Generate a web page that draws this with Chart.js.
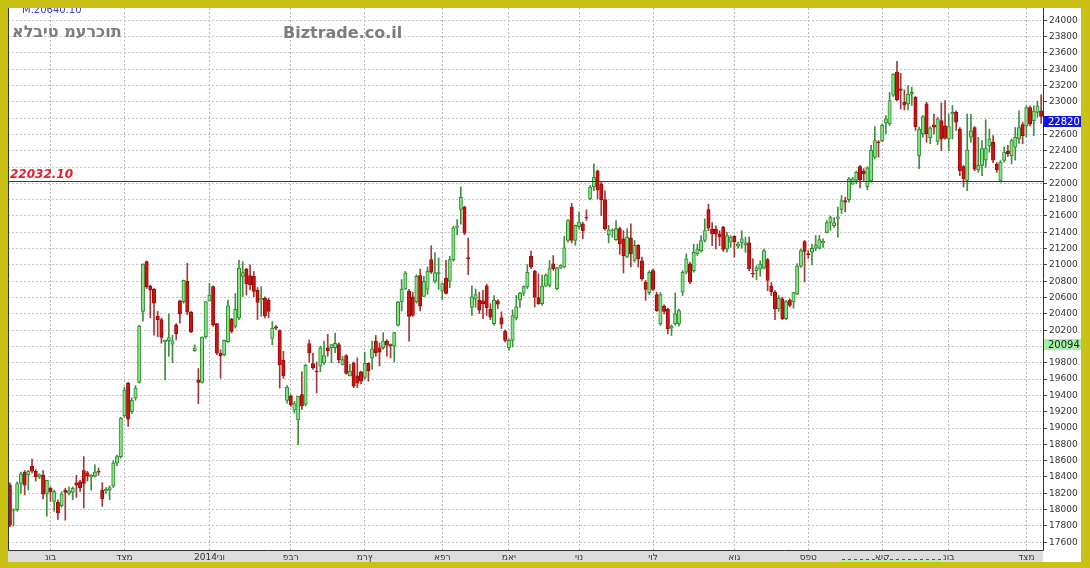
<!DOCTYPE html>
<html>
<head>
<meta charset="utf-8">
<title>אלביט מערכות</title>
<script src="https://cdn.jsdelivr.net/npm/chart.js@4.4.1/dist/chart.umd.min.js"></script>
<style>
  html, body { margin: 0; padding: 0; background: #c9c114; width: 1090px; height: 568px; overflow: hidden; }
  #wrap { position: absolute; left: 8px; top: 8px; width: 1073px; height: 554px; background: #fff; }
</style>
</head>
<body>
<div id="wrap"><canvas id="chart" width="1073" height="554"></canvas></div>
<script>
// daily candles, Nov 2013 - Dec 2014
const opens = [
  18300, 17990, 18000, 18320, 18460, 18430, 18530, 18470, 18400, 18420,
  18200, 18260, 18100, 18090, 18050, 18240, 18200, 18210, 18330, 18340,
  18480, 18450, 18400, 18410, 18470, 18240, 18230, 18240, 18290, 18570,
  18650, 19150, 19550, 19200, 19370, 19560, 20430, 21040, 20740, 20700,
  20370, 20330, 20060, 20070, 20030, 20265, 20560, 20550, 20800, 20420,
  19950, 19590, 19560, 20120, 20560, 20735, 20280, 19920, 19900, 20060,
  20335, 20245, 20350, 20860, 20950, 20870, 20860, 20690, 20570, 20590,
  20570, 20100, 20240, 20195, 19830, 19340, 19390, 19220, 19100, 19410,
  19290, 20035, 19790, 19700, 19760, 19800, 19985, 19985, 19985, 20025,
  19780, 19890, 19640, 19800, 19640, 19690, 19620, 19795, 19860, 20065,
  19985, 19985, 20065, 20025, 20005, 20260, 20545, 20705, 20680, 20610,
  20545, 20870, 20615, 20700, 21065, 20800, 20890, 20680, 20840, 20800,
  21065, 21460, 21680, 21710, 21090, 20480, 20580, 20570, 20560, 20745,
  20460, 20280, 20560, 20355, 20190, 19985, 20075, 20350, 20570, 20655,
  20730, 21105, 20925, 20600, 20525, 20740, 20750, 21015, 20710, 20960,
  20975, 21300, 21710, 21300, 21470, 21505, 21585, 21810, 21955, 22150,
  21995, 21800, 21370, 21420, 21310, 21445, 21320, 21095, 21330, 21055,
  21240, 21050, 20790, 20660, 20930, 20635, 20280, 20495, 20455, 20225,
  20280, 20280, 20665, 20910, 21015, 20930, 21135, 21175, 21300, 21680,
  21440, 21440, 21380, 21460, 21195, 21280, 21350, 21230, 21270, 21245,
  21270, 20900, 20930, 20950, 20960, 21065, 20745, 20665, 20460, 20585,
  20340, 20565, 20545, 20645, 20985, 21285, 21140, 21155, 21205, 21205,
  21270, 21400, 21520, 21480, 21570, 21680, 21790, 21800, 21990, 22035,
  22205, 22150, 21960, 22030, 22320, 22510, 22520, 22740, 22730, 23080,
  23365, 23160, 22995, 22975, 23095, 23055, 22340, 22605, 22975, 22560,
  22715, 22515, 22770, 22705, 22545, 22850, 22870, 22665, 22205, 22035,
  22565, 22685, 22165, 22220, 22285, 22460, 22505, 22235, 22035, 22280,
  22395, 22340, 22445, 22545, 22720, 22705, 22930, 22770, 22870, 22890
];
const highs = [
  18330, 18010, 18340, 18460, 18480, 18480, 18620, 18490, 18440, 18480,
  18360, 18280, 18240, 18120, 18220, 18260, 18280, 18280, 18420, 18360,
  18650, 18470, 18430, 18550, 18510, 18330, 18270, 18290, 18600, 18670,
  19130, 19500, 19560, 19370, 19520, 20260, 21015, 21050, 20750, 20710,
  20430, 20350, 20080, 20400, 20140, 20280, 20570, 20815, 21020, 20430,
  20020, 19730, 20120, 20550, 20775, 20745, 20285, 19960, 20080, 20570,
  20345, 20650, 21060, 21040, 20960, 21000, 20920, 20725, 20735, 20610,
  20590, 20305, 20255, 20205, 19940, 19520, 19410, 19330, 19390, 19690,
  19780, 20080, 19920, 19810, 20005, 20065, 20150, 20025, 20165, 20045,
  19880, 19900, 19780, 19810, 19860, 19700, 19930, 19800, 20065, 20135,
  20045, 20170, 20085, 20030, 20175, 20555, 20820, 20920, 20700, 20665,
  20880, 20950, 20860, 20975, 21235, 21150, 21085, 20780, 21055, 21105,
  21475, 21555, 21955, 21720, 21330, 20745, 20705, 20665, 20690, 20765,
  20525, 20625, 20575, 20425, 20205, 20095, 20450, 20625, 20665, 20745,
  21005, 21170, 20935, 20890, 20875, 20890, 21055, 21115, 20975, 21000,
  21350, 21555, 21755, 21490, 21650, 21525, 21675, 21975, 22240, 22165,
  22015, 21910, 21485, 21445, 21545, 21465, 21420, 21445, 21505, 21300,
  21250, 21095, 20810, 20930, 20950, 20665, 20660, 20510, 20470, 20265,
  20655, 20460, 20930, 21135, 21035, 21255, 21255, 21360, 21565, 21745,
  21520, 21480, 21420, 21475, 21400, 21360, 21360, 21280, 21420, 21340,
  21340, 21075, 20990, 21050, 21195, 21080, 20785, 20685, 20625, 20605,
  20565, 20585, 20665, 21015, 21195, 21300, 21175, 21255, 21360, 21360,
  21320, 21545, 21600, 21580, 21710, 21850, 21830, 22075, 22075, 22150,
  22220, 22180, 22205, 22465, 22695, 22525, 22730, 22830, 23115, 23345,
  23495, 23350, 23145, 23200, 23180, 23065, 22690, 22830, 22995, 22695,
  22850, 22810, 22985, 23015, 22850, 22955, 22890, 22685, 22220, 22850,
  22850, 22695, 22565, 22525, 22780, 22665, 22585, 22255, 22280, 22445,
  22465, 22545, 22685, 22890, 22750, 22950, 22950, 22950, 23010, 23085
];
const lows = [
  17790, 17800, 17980, 18200, 18180, 18240, 18450, 18350, 18380, 18130,
  17920, 18100, 17980, 17880, 18030, 17870, 18180, 18120, 18150, 18220,
  18020, 18350, 18240, 18400, 18420, 18040, 18200, 18120, 18270, 18540,
  18630, 19130, 19020, 19180, 19340, 19550, 20310, 20710, 20350, 20140,
  20120, 20040, 19590, 19880, 19800, 20080, 20285, 20530, 20390, 20170,
  19940, 19300, 19550, 20100, 20560, 20245, 19900, 19610, 19885, 20050,
  20165, 20225, 20330, 20610, 20630, 20695, 20610, 20330, 20370, 20350,
  20350, 20020, 20205, 19490, 19610, 19305, 19265, 19185, 18795, 19230,
  19270, 19810, 19720, 19430, 19690, 19780, 19880, 19800, 19925, 19800,
  19770, 19660, 19640, 19495, 19495, 19540, 19600, 19575, 19720, 19880,
  19760, 19965, 19880, 19860, 19810, 20250, 20435, 20700, 20065, 20370,
  20530, 20435, 20610, 20640, 20895, 20780, 20700, 20575, 20640, 20720,
  21045, 21370, 21500, 21370, 20880, 20380, 20480, 20405, 20340, 20380,
  20330, 20260, 20465, 20220, 20055, 19955, 19995, 20325, 20480, 20625,
  20710, 20955, 20485, 20515, 20505, 20735, 20730, 20935, 20695, 20955,
  20965, 21280, 21270, 21240, 21440, 21320, 21545, 21800, 21910, 21810,
  21605, 21425, 21270, 21340, 21300, 21130, 20900, 21090, 20975, 21035,
  20975, 20810, 20565, 20635, 20685, 20430, 20260, 20400, 20155, 20135,
  20260, 20250, 20625, 20890, 20770, 20910, 21115, 21155, 21280, 21420,
  21235, 21195, 21235, 21165, 21155, 21215, 21095, 21205, 21205, 21155,
  20930, 20850, 20820, 20860, 20950, 20685, 20625, 20330, 20430, 20330,
  20330, 20485, 20470, 20635, 20970, 20790, 21080, 21000, 21175, 21195,
  21215, 21390, 21425, 21460, 21340, 21630, 21650, 21770, 21985, 21995,
  21945, 22030, 21920, 22015, 22300, 22320, 22510, 22605, 22710, 23065,
  23015, 22910, 22900, 22900, 22955, 22650, 22180, 22565, 22505, 22485,
  22605, 22475, 22400, 22540, 22400, 22545, 22650, 22095, 21955, 21910,
  22505, 22155, 22135, 22095, 22195, 22380, 22255, 22135, 22015, 22260,
  22330, 22240, 22285, 22490, 22485, 22565, 22705, 22585, 22810, 22735
];
const closes = [
  17810, 18000, 18320, 18440, 18300, 18470, 18470, 18400, 18430, 18190,
  18360, 18220, 18220, 17960, 18190, 18210, 18230, 18260, 18300, 18270,
  18320, 18410, 18420, 18460, 18460, 18130, 18250, 18270, 18570, 18650,
  19120, 19470, 19110, 19340, 19490, 20250, 21010, 20730, 20690, 20530,
  20330, 20110, 20075, 20110, 20070, 20155, 20400, 20810, 20420, 20180,
  19980, 19560, 20115, 20550, 20630, 20265, 19920, 19885, 20075, 20500,
  20185, 20455, 20960, 20905, 20770, 20755, 20675, 20540, 20590, 20375,
  20430, 20225, 20225, 19775, 19640, 19500, 19285, 19300, 19390, 19270,
  19770, 19920, 19740, 19690, 19985, 19890, 19945, 20025, 20040, 19840,
  19840, 19670, 19700, 19515, 19550, 19575, 19795, 19700, 19970, 19920,
  19930, 20065, 20015, 20010, 20170, 20545, 20705, 20900, 20370, 20380,
  20860, 20495, 20800, 20925, 20910, 20905, 20905, 20770, 20650, 21065,
  21455, 21475, 21830, 21390, 21075, 20610, 20635, 20445, 20525, 20475,
  20360, 20570, 20520, 20275, 20075, 20075, 20380, 20485, 20655, 20735,
  20910, 20975, 20605, 20525, 20740, 20875, 20955, 20955, 20965, 20995,
  21210, 21545, 21300, 21485, 21525, 21420, 21575, 21955, 22075, 21920,
  21800, 21445, 21430, 21425, 21445, 21260, 21115, 21340, 21135, 21240,
  21075, 20830, 20700, 20910, 20700, 20440, 20635, 20430, 20215, 20250,
  20400, 20440, 20910, 21075, 20790, 21155, 21195, 21300, 21420, 21450,
  21380, 21380, 21340, 21190, 21360, 21340, 21285, 21260, 21320, 21270,
  20950, 20890, 20965, 21010, 21175, 20810, 20670, 20460, 20590, 20340,
  20550, 20505, 20660, 20985, 21175, 21165, 21125, 21205, 21245, 21310,
  21290, 21520, 21580, 21520, 21590, 21790, 21770, 22055, 22055, 22135,
  22045, 22120, 22190, 22405, 22525, 22495, 22710, 22790, 23015, 23340,
  23025, 23140, 22960, 23095, 23115, 22695, 22665, 22820, 22605, 22680,
  22690, 22790, 22545, 22555, 22695, 22870, 22750, 22155, 22055, 22410,
  22645, 22175, 22220, 22425, 22425, 22545, 22285, 22165, 22260, 22385,
  22360, 22525, 22565, 22685, 22585, 22930, 22725, 22885, 22950, 22820
];

// month tick labels and the candle index where each one sits
const monthLabels = ['נוב', 'דצמ', '2014ינו', 'פבר', 'מרץ', 'אפר', 'מאי', 'יונ', 'יול', 'אוג', 'ספט', 'אוק', 'נוב', 'דצמ'];
const monthStarts = [11, 31, 54, 76, 96, 117, 135, 154, 174, 196, 216, 236, 254, 275];

const refLevel = 22032.10;   // horizontal line
const maValue = 20094;       // green marker on the price axis
const topValue = 20640.10;   // small blue text at the top
const yMin = 17505;
const yMax = 24150;

const FONT = '"DejaVu Sans", Verdana, sans-serif';
const up = opens.map((o, i) => closes[i] >= o);
const lastClose = closes[closes.length - 1];
// the source chart lays Hebrew glyphs out left to right
const ltr = s => '\u202D' + s + '\u202C';

const decor = {
  id: 'decor',
  beforeDraw(chart) {
    const { ctx, chartArea: a, width, height } = chart;
    ctx.save();
    ctx.fillStyle = '#ffffff';
    ctx.fillRect(0, 0, width, height);
    // grey band behind the date axis
    ctx.fillStyle = '#dcdcdc';
    ctx.fillRect(a.left, a.bottom, a.right - a.left, height - a.bottom);
    ctx.restore();
  },
  afterDatasetsDraw(chart) {
    const { ctx, chartArea: a, scales: { y } } = chart;
    ctx.save();
    const yl = Math.round(y.getPixelForValue(refLevel)) + 0.5;
    ctx.strokeStyle = '#3a3a3a';
    ctx.lineWidth = 1;
    ctx.beginPath();
    ctx.moveTo(a.left, yl);
    ctx.lineTo(a.right, yl);
    ctx.stroke();
    ctx.font = 'italic bold 12px ' + FONT;
    ctx.fillStyle = '#e3202a';
    ctx.textBaseline = 'alphabetic';
    ctx.textAlign = 'left';
    ctx.fillText(refLevel.toFixed(2), a.left + 2, yl - 4);

    // frame: left, bottom, right
    ctx.strokeStyle = '#333333';
    ctx.beginPath();
    ctx.moveTo(a.left + 0.5, a.top);
    ctx.lineTo(a.left + 0.5, a.bottom + 0.5);
    ctx.lineTo(a.right + 0.5, a.bottom + 0.5);
    ctx.lineTo(a.right + 0.5, a.top);
    ctx.stroke();
    ctx.restore();
  },
  afterDraw(chart) {
    const { ctx, chartArea: a, scales: { y } } = chart;
    ctx.save();
    // titles
    ctx.textAlign = 'left';
    ctx.textBaseline = 'alphabetic';
    ctx.fillStyle = '#7d7d7d';
    ctx.font = 'bold 16px ' + FONT;
    ctx.fillText(ltr('אלביט מערכות'), 4, 29);
    ctx.fillText('Biztrade.co.il', 275, 30);
    ctx.fillStyle = '#3a3ad0';
    ctx.font = '10px ' + FONT;
    ctx.fillText('M.' + topValue.toFixed(2), 14, 4.5);

    // price boxes on the axis
    const box = (v, bg, fg) => {
      const top = Math.round(y.getPixelForValue(v));
      ctx.fillStyle = bg;
      ctx.fillRect(a.right + 1, top, 37, 11);
      ctx.fillStyle = fg;
      ctx.font = '10px ' + FONT;
      ctx.textBaseline = 'middle';
      ctx.fillText(String(v), a.right + 5, top + 6);
    };
    box(lastClose, '#1414e6', '#ffffff');
    box(maValue, '#a4f0a4', '#1a1a1a');

    // small green strip on the date band
    ctx.fillStyle = '#aef2ae';
    ctx.fillRect(834, 551, 99, 3);
    ctx.strokeStyle = '#555';
    ctx.setLineDash([3, 3]);
    ctx.beginPath();
    ctx.moveTo(834, 551.5);
    ctx.lineTo(933, 551.5);
    ctx.stroke();
    ctx.restore();
  }
};

const ctx = document.getElementById('chart').getContext('2d');
const priceChart = new Chart(ctx, {
  type: 'bar',
  data: {
    labels: opens.map((o, i) => i),
    datasets: [
      {
        label: 'body',
        data: opens.map((o, i) => [o, closes[i]]),
        backgroundColor: up.map(u => u ? '#86e386' : '#cc1414'),
        borderColor: up.map(u => u ? '#2f8a2f' : '#9a0c0c'),
        borderWidth: 1,
        borderSkipped: false,
        barThickness: 3.4,
        grouped: false,
        order: 0
      },
      {
        label: 'wick',
        data: lows.map((l, i) => [l, highs[i]]),
        backgroundColor: up.map(u => u ? '#3f8f3f' : '#a23a3a'),
        borderWidth: 0,
        barThickness: 1,
        grouped: false,
        order: 1
      }
    ]
  },
  options: {
    responsive: false,
    animation: false,
    devicePixelRatio: 1,
    events: [],
    layout: { padding: 0 },
    plugins: {
      legend: { display: false },
      tooltip: { enabled: false }
    },
    scales: {
      x: {
        offset: true,
        grid: {
          offset: false,
          drawTicks: false,
          color: c => monthStarts.includes(c.index) ? '#bdbdbd' : 'rgba(0,0,0,0)'
        },
        border: { display: false, dash: [2, 2] },
        ticks: {
          autoSkip: false,
          minRotation: 0,
          maxRotation: 0,
          padding: 2,
          color: '#333',
          font: { family: FONT, size: 9 },
          callback: (v, i) => {
            const k = monthStarts.indexOf(i);
            return k >= 0 ? ltr(monthLabels[k]) : '';
          }
        },
        afterFit: s => { s.height = 12; s.paddingLeft = 0; s.paddingRight = 0; }
      },
      y: {
        position: 'right',
        min: yMin,
        max: yMax,
        grid: {
          color: '#c4c4c4',
          drawTicks: true,
          tickLength: 4,
          tickColor: '#444',
          tickBorderDash: []
        },
        border: { display: false, dash: [2, 2] },
        ticks: {
          stepSize: 200,
          includeBounds: false,
          padding: 2,
          color: '#333',
          font: { family: FONT, size: 9 },
          // labels under the two price boxes are left out
          callback: v => (Math.abs(v - lastClose) < 100 || Math.abs(v - maValue) < 100) ? '' : String(v)
        },
        afterFit: s => { s.width = 38; s.paddingTop = 0; s.paddingBottom = 0; }
      }
    }
  },
  plugins: [decor]
});
</script>
</body>
</html>
